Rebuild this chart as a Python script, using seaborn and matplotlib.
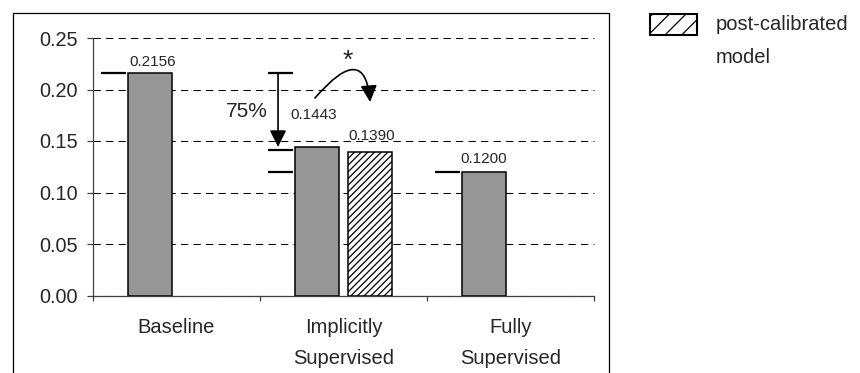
import matplotlib
matplotlib.use("Agg")
import numpy as np
import pandas as pd
import seaborn as sns
import matplotlib.pyplot as plt
from matplotlib.patches import Patch, Rectangle, FancyArrowPatch
from matplotlib.path import Path
from matplotlib.legend_handler import HandlerPatch
from matplotlib.ticker import FormatStrFormatter

# data
categories = ["Baseline", "Implicitly\nSupervised", "Fully\nSupervised"]
models = ["original model", "post-calibrated model"]
original = [0.2156, 0.1443, 0.1200]
calibrated = [np.nan, 0.1390, np.nan]

# short reference marks left of the bars (category index, level)
mark_cat = [0, 1, 1, 1, 2]
mark_val = [0.2156, 0.2156, 0.1415, 0.1200, 0.1200]

sns.set_style("white")
plt.rcParams["font.family"] = ["Liberation Sans", "DejaVu Sans"]
plt.rcParams["hatch.linewidth"] = 0.9

df = pd.DataFrame({
    "method": categories * 2,
    "model": [models[0]] * 3 + [models[1]] * 3,
    "error": original + calibrated,
})

fig = plt.figure(figsize=(8.6, 3.73), dpi=100)
ax = fig.add_axes([93 / 860, 1 - 295.5 / 373, (594 - 93) / 860, (295.5 - 38) / 373])

sns.barplot(data=df, x="method", y="error", hue="model", order=categories,
            hue_order=models, palette={models[0]: "#969696", models[1]: "white"},
            width=0.64, gap=0.17, errorbar=None, edgecolor="black",
            linewidth=1.1, legend=False, ax=ax)
for bar in ax.containers[1]:
    bar.set_hatch("/////")

ax.set_xlabel("")
ax.set_ylabel("")
ax.set_xlim(-0.5, 2.5)
ax.set_ylim(0, 0.25)
ax.set_yticks(np.arange(0, 0.2501, 0.05))
ax.yaxis.set_major_formatter(FormatStrFormatter("%.2f"))
ax.set_axisbelow(True)
ax.yaxis.grid(True, linestyle=(0, (7, 5)), color="black", linewidth=0.75)
for gl in ax.yaxis.get_gridlines():
    gl.set_clip_on(False)

for s in ["top", "right"]:
    ax.spines[s].set_visible(False)
for s in ["left", "bottom"]:
    ax.spines[s].set_color("#404040")
    ax.spines[s].set_linewidth(0.9)

ax.tick_params(axis="y", direction="out", length=4.3, width=0.9, color="#404040",
               pad=6.5, labelsize=14.3, left=True)
ax.tick_params(axis="x", which="major", length=0, pad=16, labelsize=14.5)
ax.set_xticks([-0.5, 0.5, 1.5, 2.5], minor=True)
ax.tick_params(axis="x", which="minor", direction="out", length=3.6, width=0.9,
               color="#404040", bottom=True)
for lab in ax.get_xticklabels():
    lab.set_linespacing(1.8)

# value labels with the nudges seen in the reference (points)
label_nudge = {0.2156: (2, 3), 0.1443: (-2, 18), 0.1390: (1, 7), 0.1200: (0, 4)}
for cont in ax.containers:
    for bar in cont:
        h = bar.get_height()
        if not np.isfinite(h) or h == 0:
            continue
        dx, dy = label_nudge.get(round(h, 4), (0, 3))
        ax.annotate(f"{h:.4f}", (bar.get_x() + bar.get_width() / 2, h),
                    xytext=(dx, dy), textcoords="offset points",
                    ha="center", va="bottom", fontsize=11)

ax.hlines(mark_val, np.array(mark_cat) - 0.455, np.array(mark_cat) - 0.303,
          color="black", linewidth=1.6, clip_on=False)

arrow_style = "-|>,head_length=0.4,head_width=0.2"
ax.annotate("", xy=(0.608, original[1]), xytext=(0.608, original[0]),
            arrowprops=dict(arrowstyle=arrow_style, mutation_scale=25, lw=1.2,
                            color="black", shrinkA=0, shrinkB=0))
ax.text(0.548, 0.1733, "75%", ha="right", va="baseline", fontsize=15)

curve = Path([(0.829, 0.1917), (1.129, 0.248), (1.159, 0.1879)],
             [Path.MOVETO, Path.CURVE3, Path.CURVE3])
ax.add_patch(FancyArrowPatch(path=curve, arrowstyle=arrow_style, mutation_scale=25,
                             lw=1.2, color="black", shrinkA=0, shrinkB=0,
                             clip_on=False))
ax.text(1.024, 0.2209, "*", ha="center", va="baseline", fontsize=19)

# outer chart frame
fig.patches.append(Rectangle((12.7 / 860, -0.1), (609 - 12.7) / 860, 1.1 - 13 / 373,
                             transform=fig.transFigure, fill=False,
                             edgecolor="black", linewidth=0.9))


def first_line_patch(legend, orig_handle, xdescent, ydescent, width, height, fontsize):
    # keep the swatch level with the first line of the two-line label
    return Rectangle((-xdescent, -ydescent + 12), width, height)


leg = fig.legend(handles=[Patch(facecolor="white", edgecolor="black", hatch="//",
                                linewidth=1.5)],
                 labels=["post-calibrated\nmodel"], loc="upper left",
                 bbox_to_anchor=(650 / 860, 1 - 14.5 / 373), frameon=False,
                 fontsize=14.5, handlelength=2.35, handleheight=1.25,
                 handletextpad=0.9, borderpad=0, borderaxespad=0,
                 handler_map={Patch: HandlerPatch(patch_func=first_line_patch)})
for t in leg.get_texts():
    t.set_linespacing(1.95)

fig.savefig("out.png", dpi=100)
